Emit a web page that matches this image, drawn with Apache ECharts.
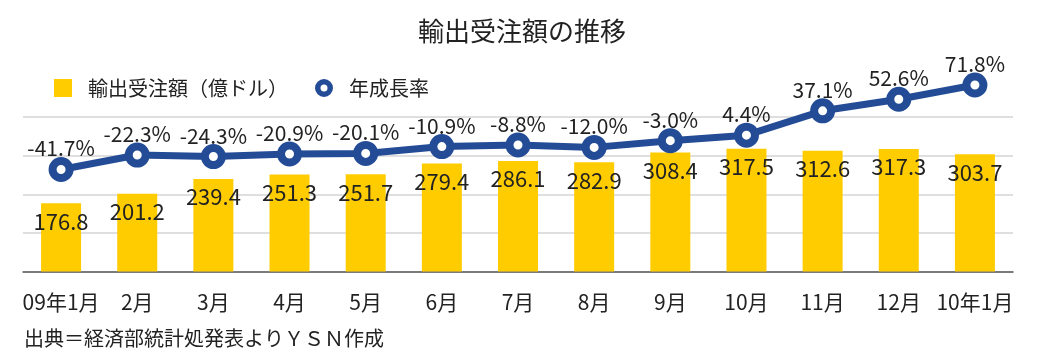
<!DOCTYPE html>
<html>
<head>
<meta charset="utf-8">
<script src="https://cdn.jsdelivr.net/npm/echarts@6/dist/echarts.min.js"></script>
<style>
html,body{margin:0;padding:0;background:#fff;}
#c{width:1044px;height:363px;}
</style>
</head>
<body>
<div id="c"></div>
<script>
const titleText = '輸出受注額の推移';
const sourceText = '出典＝経済部統計処発表よりＹＳＮ作成';
const categories = ['09年1月','2月','3月','4月','5月','6月','7月','8月','9月','10月','11月','12月','10年1月'];
const orderName = '輸出受注額（億ドル）';
const growthName = '年成長率';
const orders = [176.8,201.2,239.4,251.3,251.7,279.4,286.1,282.9,308.4,317.5,312.6,317.3,303.7];
const growth = [-41.7,-22.3,-24.3,-20.9,-20.1,-10.9,-8.8,-12.0,-3.0,4.4,37.1,52.6,71.8];

const FONT = '"Noto Sans CJK JP", "Noto Sans", sans-serif';
const BLUE = '#244c96';
const ringPath = 'path://M9,0 A9,9 0 1,1 8.99,0 Z M9,5.5 A3.5,3.5 0 1,0 9.01,5.5 Z';

const chart = echarts.init(document.getElementById('c'), null, {renderer:'canvas'});
chart.setOption({
  animation: false,
  backgroundColor: '#fff',
  textStyle: {fontFamily: FONT},
  title: {
    text: titleText, left: 'center', top: 13,
    textStyle: {fontSize: 26, fontWeight: 'normal', color: '#222', fontFamily: FONT}
  },
  legend: {
    left: 49, top: 73, itemWidth: 18, itemHeight: 18, itemGap: 27,
    textStyle: {fontSize: 20, color: '#222', fontFamily: FONT, padding: [0,0,0,11]},
    data: [
      {name: orderName, icon: 'rect', itemStyle: {color: '#ffcc00'}},
      {name: growthName, icon: ringPath, itemStyle: {color: BLUE, borderWidth: 0}}
    ]
  },
  graphic: [{
    type: 'text', left: 24, top: 328,
    style: {text: sourceText, fontSize: 20, fill: '#222', fontFamily: FONT}
  }],
  grid: {left: 23, right: 31, top: 117, bottom: 91.5, containLabel: false},
  xAxis: {
    type: 'category', data: categories,
    axisTick: {show: false},
    axisLine: {lineStyle: {color: '#595959', width: 1.5}},
    axisLabel: {fontSize: 21, color: '#222', margin: 20, fontFamily: FONT, interval: 0}
  },
  yAxis: [
    {type: 'value', min: 0, max: 400, interval: 100,
     axisLabel: {show: false}, axisLine: {show: false}, axisTick: {show: false},
     splitLine: {lineStyle: {color: '#d4d4d4', width: 1.5}}},
    {type: 'value', min: -178.7, max: 28.8, show: false, splitLine: {show: false}}
  ],
  series: [
    {
      name: orderName, type: 'bar', data: orders, barWidth: 40,
      itemStyle: {color: '#ffcc00'},
      label: {show: true, position: 'insideTop', distance: 7, fontSize: 22, color: '#222', fontFamily: FONT,
        formatter: p => p.value.toFixed(1)},
      z: 2
    },
    {
      name: growthName, type: 'line', yAxisIndex: 1, data: growth, clip: false,
      symbol: 'circle', symbolSize: 17, showAllSymbol: true,
      lineStyle: {color: BLUE, width: 7},
      itemStyle: {color: '#fff', borderColor: BLUE, borderWidth: 8},
      label: {show: true, position: 'top', distance: -2, fontSize: 21, color: '#222', fontFamily: FONT,
        formatter: p => p.value.toFixed(1) + '%'},
      z: 3
    }
  ]
});
</script>
</body>
</html>
